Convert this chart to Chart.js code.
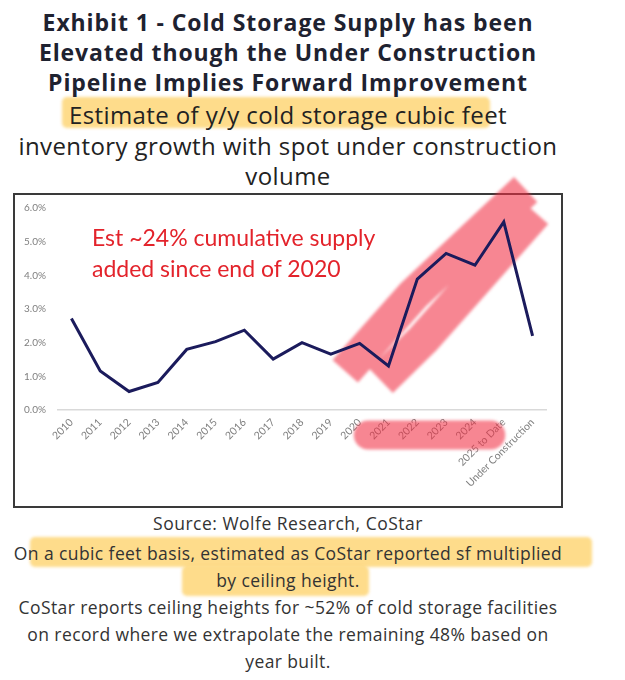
<!DOCTYPE html>
<html>
<head>
<meta charset="utf-8">
<script src="https://cdn.jsdelivr.net/npm/chart.js@4.4.0/dist/chart.umd.min.js"></script>
<style>
  body { margin: 0; background: #fff; width: 625px; height: 680px; position: relative; overflow: hidden;
         font-family: "Open Sans", Lato, sans-serif; color: #222; }
  .txt { position: absolute; left: 0; width: 576px; text-align: center; z-index: 2; white-space: nowrap; }
  .title { top: 7px; font-size: 23px; font-weight: bold; line-height: 30px; color: #1e2230; letter-spacing: 0.9px; }
  .sub { top: 100px; font-size: 24px; line-height: 30.5px; color: #222; letter-spacing: 0.4px; }
  .source { top: 510px; font-size: 17.5px; line-height: 27px; color: #333; letter-spacing: 0.5px; }
  .notes { top: 540px; font-size: 17.5px; line-height: 27px; color: #333; letter-spacing: 0.4px; }
  .hl { position: absolute; background: rgba(253, 205, 90, 0.7); border-radius: 5px; filter: blur(1.5px); z-index: 1; }
  .box { position: absolute; left: 13px; top: 193px; width: 550px; height: 315px; border: 2px solid #3a3a3a;
         box-sizing: border-box; z-index: 0; }
  .wrap { position: absolute; left: 13px; top: 165px; width: 550px; height: 345px; z-index: 3; }
  .note { position: absolute; left: 92px; top: 222px; font-size: 23px; line-height: 31px; color: #e3232b; z-index: 4;
          font-family: Lato, sans-serif; }
</style>
</head>
<body>
<div class="hl" style="left:62px;top:97px;width:428px;height:31px;"></div>
<div class="hl" style="left:30px;top:537px;width:562px;height:30px;"></div>
<div class="hl" style="left:182px;top:566px;width:187px;height:30px;"></div>

<div class="txt title">Exhibit 1 - Cold Storage Supply has been<br>Elevated though the Under Construction<br>Pipeline Implies Forward Improvement</div>
<div class="txt sub">Estimate of y/y cold storage cubic feet<br>inventory growth with spot under construction<br>volume</div>

<div class="box"></div>
<div class="wrap"><canvas id="supplyChart"></canvas></div>
<div class="note">Est ~24% cumulative supply<br>added since end of 2020</div>

<div class="txt source">Source: Wolfe Research, CoStar</div>
<div class="txt notes">On a cubic feet basis, estimated as CoStar reported sf multiplied<br>by ceiling height.<br>CoStar reports ceiling heights for ~52% of cold storage facilities<br>on record where we extrapolate the remaining 48% based on<br>year built.</div>

<script>
const years = ['2010', '2011', '2012', '2013', '2014', '2015', '2016', '2017', '2018', '2019',
  '2020', '2021', '2022', '2023', '2024', '2025 to Date', 'Under Construction']
const growth = [2.72, 1.16, 0.55, 0.82, 1.80, 2.03, 2.37, 1.51, 2.00, 1.66,
  1.98, 1.31, 3.89, 4.65, 4.30, 5.59, 2.20]
const yTicks = [0, 1, 2, 3, 4, 5, 6]

// marker-pen scribbles, in data units (category index, percent)
const pinkStrokes = [
  [[9.5, 1.15], [11.86, 3.42], [15.76, 6.55]],
  [[10.74, 0.87], [12.2, 2.09], [16.1, 5.86]]
]
const pinkBand = [10.3, 14.55]
const pink = 'rgba(242, 47, 67, 0.58)'

const markerPlugin = {
  id: 'marker',
  beforeDatasetsDraw(chart) {
    const { ctx, scales: { x, y } } = chart
    ctx.save()
    ctx.filter = 'blur(1.5px)'
    ctx.strokeStyle = pink
    ctx.lineWidth = 34
    ctx.lineCap = 'butt'
    ctx.lineJoin = 'round'
    ctx.beginPath()
    pinkStrokes.forEach(s => {
      s.forEach((p, i) => {
        const px = x.getPixelForValue(p[0])
        const py = y.getPixelForValue(p[1])
        if (i === 0) ctx.moveTo(px, py)
        else ctx.lineTo(px, py)
      })
    })
    ctx.stroke()
    ctx.restore()
  },
  afterDraw(chart) {
    const { ctx, scales: { x }, chartArea } = chart
    ctx.save()
    ctx.filter = 'blur(1.5px)'
    ctx.strokeStyle = pink
    ctx.lineWidth = 29
    ctx.lineCap = 'round'
    const yy = chartArea.bottom + 25
    ctx.beginPath()
    ctx.moveTo(x.getPixelForValue(pinkBand[0]), yy)
    ctx.lineTo(x.getPixelForValue(pinkBand[1]), yy)
    ctx.stroke()
    ctx.restore()
  }
}

new Chart(document.getElementById('supplyChart'), {
  type: 'line',
  data: {
    labels: years,
    datasets: [{
      data: growth,
      borderColor: '#1b1b5c',
      borderWidth: 3,
      pointRadius: 0,
      tension: 0
    }]
  },
  options: {
    responsive: true,
    maintainAspectRatio: false,
    animation: false,
    layout: { padding: { top: 43, right: 16, bottom: 0, left: 0 } },
    plugins: { legend: { display: false }, tooltip: { enabled: false } },
    scales: {
      x: {
        offset: true,
        grid: { display: false, drawTicks: false },
        border: { display: false },
        ticks: {
          autoSkip: false, minRotation: 45, maxRotation: 45, padding: 6,
          color: '#7f7f7f', font: { family: 'Lato', size: 10.5 }
        },
        afterFit(scale) { scale.height = 100 }
      },
      y: {
        min: 0, max: 6,
        afterBuildTicks(scale) { scale.ticks = yTicks.map(v => ({ value: v })) },
        grid: {
          drawTicks: false,
          color: ctx => ctx.tick && ctx.tick.value === 0 ? '#d9d9d9' : 'rgba(0,0,0,0)',
          lineWidth: 1.5
        },
        border: { display: false },
        ticks: {
          padding: 11, color: '#7f7f7f', font: { family: 'Lato', size: 10 },
          callback: v => v.toFixed(1) + '%'
        },
        afterFit(scale) { scale.width = 44 }
      }
    }
  },
  plugins: [markerPlugin]
})
</script>
</body>
</html>
